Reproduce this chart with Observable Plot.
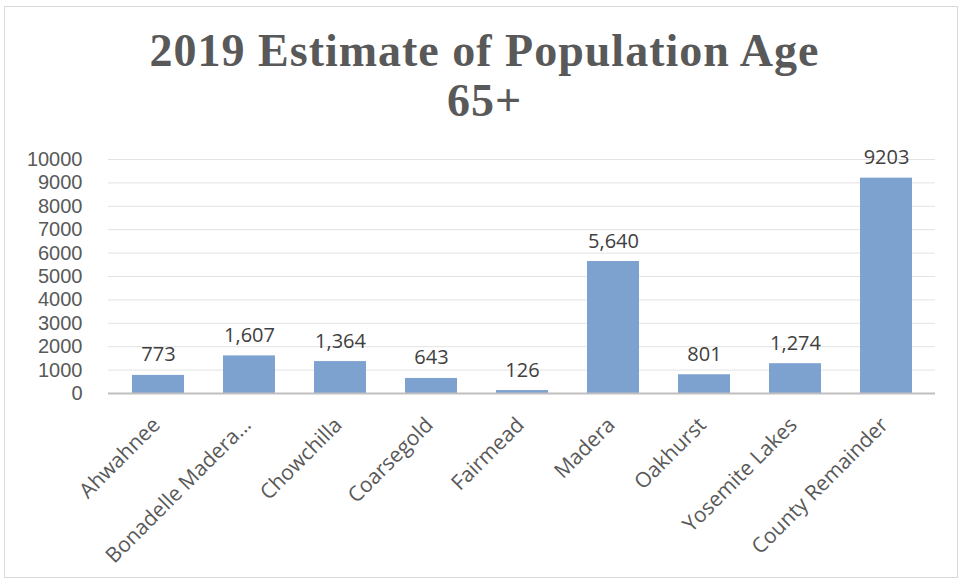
<!DOCTYPE html>
<html>
<head>
<meta charset="utf-8">
<script src="https://cdn.jsdelivr.net/npm/d3@7"></script>
<script src="https://cdn.jsdelivr.net/npm/@observablehq/plot@0.6"></script>
<style>
  html, body { margin: 0; padding: 0; background: #fff; }
  #wrap { position: relative; width: 963px; height: 582px; overflow: hidden; }
  #frame { position: absolute; left: 4px; top: 6px; width: 954px; height: 572px; border: 1px solid #d9d9d9; box-sizing: border-box; pointer-events: none; }
  #title { position: relative; height: 130px; box-sizing: border-box; padding-top: 26px; text-align: center;
           font-family: "Liberation Serif", serif; font-weight: bold; font-size: 46px; line-height: 50px; color: #595959; padding-left: 6px; letter-spacing: 1px; }
  #chart svg { display: block; }
</style>
</head>
<body>
<div id="wrap">
  <div id="frame"></div>
  <div id="title">2019 Estimate of Population Age<br>65+</div>
  <div id="chart"></div>
</div>
<script>
const categories = ["Ahwahnee", "Bonadelle Madera…", "Chowchilla", "Coarsegold", "Fairmead", "Madera", "Oakhurst", "Yosemite Lakes", "County Remainder"];
const values = [773, 1607, 1364, 643, 126, 5640, 801, 1274, 9203];
const valueLabels = ["773", "1,607", "1,364", "643", "126", "5,640", "801", "1,274", "9203"];
const yTicks = [0, 1000, 2000, 3000, 4000, 5000, 6000, 7000, 8000, 9000, 10000];

const data = categories.map((c, i) => ({category: c, value: values[i], label: valueLabels[i]}));

const chart = Plot.plot({
  width: 963,
  height: 452,
  marginTop: 29,
  marginBottom: 189,
  marginLeft: 108,
  marginRight: 28,
  style: {fontFamily: "'Open Sans', sans-serif", fontSize: "20px", background: "transparent"},
  x: {domain: categories, paddingInner: 0.43, paddingOuter: 0.215, label: null},
  y: {domain: [0, 10000], label: null},
  marks: [
    Plot.gridY(yTicks, {stroke: "#e3e3e3", strokeOpacity: 1, strokeWidth: 1}),
    Plot.barY(data, {x: "category", y: "value", fill: "#7da2d0"}),
    Plot.ruleY([0], {stroke: "#bfbfbf", strokeWidth: 2}),
    Plot.text(data, {x: "category", y: "value", text: "label", lineAnchor: "bottom", dy: -14, fill: "#404040", fontSize: 20}),
    Plot.axisY({ticks: yTicks, tickSize: 0, tickPadding: 26, tickFormat: d => String(d), fill: "#595959", fontSize: 20, fontFamily: "'Liberation Sans', sans-serif"}),
    Plot.axisX({tickSize: 0, tickRotate: -45, tickPadding: 28, dx: -2, fill: "#595959", fontSize: 21})
  ]
});
document.getElementById("chart").appendChild(chart);
</script>
</body>
</html>
